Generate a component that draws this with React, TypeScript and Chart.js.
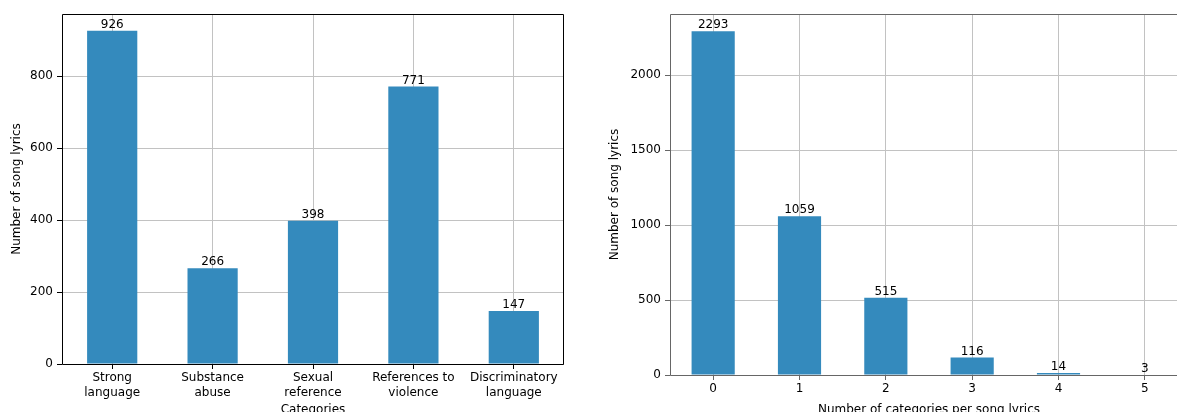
import React, { useEffect, useRef } from "react";
import { Chart, registerables } from "chart.js";

Chart.register(...registerables);

// ---- Data ----
const categoryLabels: string[][] = [
  ["Strong", "language"],
  ["Substance", "abuse"],
  ["Sexual", "reference"],
  ["References to", "violence"],
  ["Discriminatory", "language"],
];
const categoryCounts: number[] = [926, 266, 398, 771, 147];
const leftYTicks: number[] = [0, 200, 400, 600, 800];

const perSongLabels: string[] = ["0", "1", "2", "3", "4", "5"];
const perSongCounts: number[] = [2293, 1059, 515, 116, 14, 3];
const rightYTicks: number[] = [0, 500, 1000, 1500, 2000];

const yAxisTitle = "Number of song lyrics";
const leftXTitle = "Categories";
const rightXTitle = "Number of categories per song lyrics";

// ---- Styles ----
const BAR_COLOR = "#348ABD";
const GRID_COLOR = "#c2c2c2";
const FONT = { family: "'DejaVu Sans', sans-serif", size: 12 };

const barLabelPlugin = {
  id: "barLabels",
  afterDatasetsDraw(chart: any) {
    const ctx = chart.ctx;
    const meta = chart.getDatasetMeta(0);
    const data = chart.data.datasets[0].data;
    ctx.save();
    ctx.font = "12px 'DejaVu Sans', sans-serif";
    ctx.fillStyle = "#000";
    ctx.textAlign = "center";
    ctx.textBaseline = "bottom";
    meta.data.forEach((bar: any, i: number) => {
      ctx.fillText(String(data[i]), bar.x, bar.y);
    });
    ctx.restore();
  },
};

const spinePlugin = {
  id: "spines",
  afterDatasetsDraw(chart: any, _args: any, opts: any) {
    const { ctx, chartArea } = chart;
    ctx.save();
    ctx.strokeStyle = opts.color || "#000";
    ctx.lineWidth = 1;
    const l = Math.round(chartArea.left) + 0.5;
    const t = Math.round(chartArea.top) + 0.5;
    const r = Math.round(chartArea.right) - 0.5;
    const b = Math.round(chartArea.bottom) + 0.5;
    ctx.beginPath();
    ctx.moveTo(l, b);
    ctx.lineTo(l, t);
    ctx.lineTo(r, t);
    if (opts.right !== false) {
      ctx.lineTo(r, b);
    } else {
      ctx.moveTo(r, b);
    }
    ctx.lineTo(l, b);
    ctx.stroke();
    ctx.restore();
  },
};

interface BarProps {
  labels: any[];
  values: number[];
  yTicks: number[];
  xTitle: string;
  spineColor: string;
  showRightSpine: boolean;
  left: number;
  width: number;
  height: number;
  yAxisWidth: number;
  xAxisHeight: number;
  yTitlePad: number;
  padRight: number;
}

function BarChart(p: BarProps) {
  const ref = useRef<HTMLCanvasElement>(null);
  useEffect(() => {
    if (!ref.current) return;
    const yMax = Math.max(...p.values) * 1.05;
    const chart = new Chart(ref.current, {
      type: "bar",
      data: {
        labels: p.labels,
        datasets: [
          {
            data: p.values,
            backgroundColor: BAR_COLOR,
            borderWidth: 0,
            inflateAmount: 0,
            barPercentage: 0.5,
            categoryPercentage: 1,
          },
        ],
      },
      options: {
        responsive: false,
        animation: false,
        devicePixelRatio: 1,
        layout: { padding: { top: 14, right: p.padRight, left: 0, bottom: 0 } },
        plugins: {
          legend: { display: false },
          tooltip: { enabled: false },
          spines: { color: p.spineColor, right: p.showRightSpine },
        } as any,
        scales: {
          x: {
            offset: true,
            afterFit(scale: any) {
              scale.height = p.xAxisHeight;
            },
            ticks: {
              font: FONT,
              color: "#000",
              maxRotation: 0,
              minRotation: 0,
              autoSkip: false,
              padding: 2,
            },
            grid: {
              offset: false,
              color: GRID_COLOR,
              tickColor: p.spineColor,
              tickLength: 5,
              lineWidth: 1,
            },
            border: { display: false },
            title: {
              display: true,
              text: p.xTitle,
              font: FONT,
              color: "#000",
              padding: { top: 0, bottom: 3 },
            },
          },
          y: {
            min: 0,
            max: yMax,
            afterFit(scale: any) {
              scale.width = p.yAxisWidth;
            },
            afterBuildTicks(scale: any) {
              scale.ticks = p.yTicks.map((v) => ({ value: v }));
            },
            ticks: {
              font: FONT,
              color: "#000",
              padding: 4,
              callback: (v: any) => String(v),
            },
            grid: {
              color: GRID_COLOR,
              tickColor: p.spineColor,
              tickLength: 5,
              lineWidth: 1,
            },
            border: { display: false },
            title: {
              display: true,
              text: yAxisTitle,
              font: FONT,
              color: "#000",
              padding: { top: p.yTitlePad, bottom: 0 },
            },
          },
        },
      },
      plugins: [barLabelPlugin, spinePlugin],
    } as any);
    return () => chart.destroy();
  }, []);
  return (
    <canvas
      ref={ref}
      width={p.width}
      height={p.height}
      style={{
        position: "absolute",
        left: p.left,
        top: 0,
        width: p.width,
        height: p.height,
      }}
    />
  );
}

export default function App() {
  return (
    <div
      style={{
        position: "fixed",
        left: 0,
        top: 0,
        width: 1177,
        height: 412,
        overflow: "hidden",
        background: "#fff",
      }}
    >
      <BarChart
        labels={categoryLabels}
        values={categoryCounts}
        yTicks={leftYTicks}
        xTitle={leftXTitle}
        spineColor="#000"
        showRightSpine={true}
        left={0}
        width={590}
        height={420}
        yAxisWidth={62}
        xAxisHeight={56}
        yTitlePad={9.3}
        padRight={26}
      />
      <BarChart
        labels={perSongLabels}
        values={perSongCounts}
        yTicks={rightYTicks}
        xTitle={rightXTitle}
        spineColor="#666"
        showRightSpine={false}
        left={590}
        width={630}
        height={420}
        yAxisWidth={80}
        xAxisHeight={45}
        yTitlePad={17.3}
        padRight={32}
      />
    </div>
  );
}
